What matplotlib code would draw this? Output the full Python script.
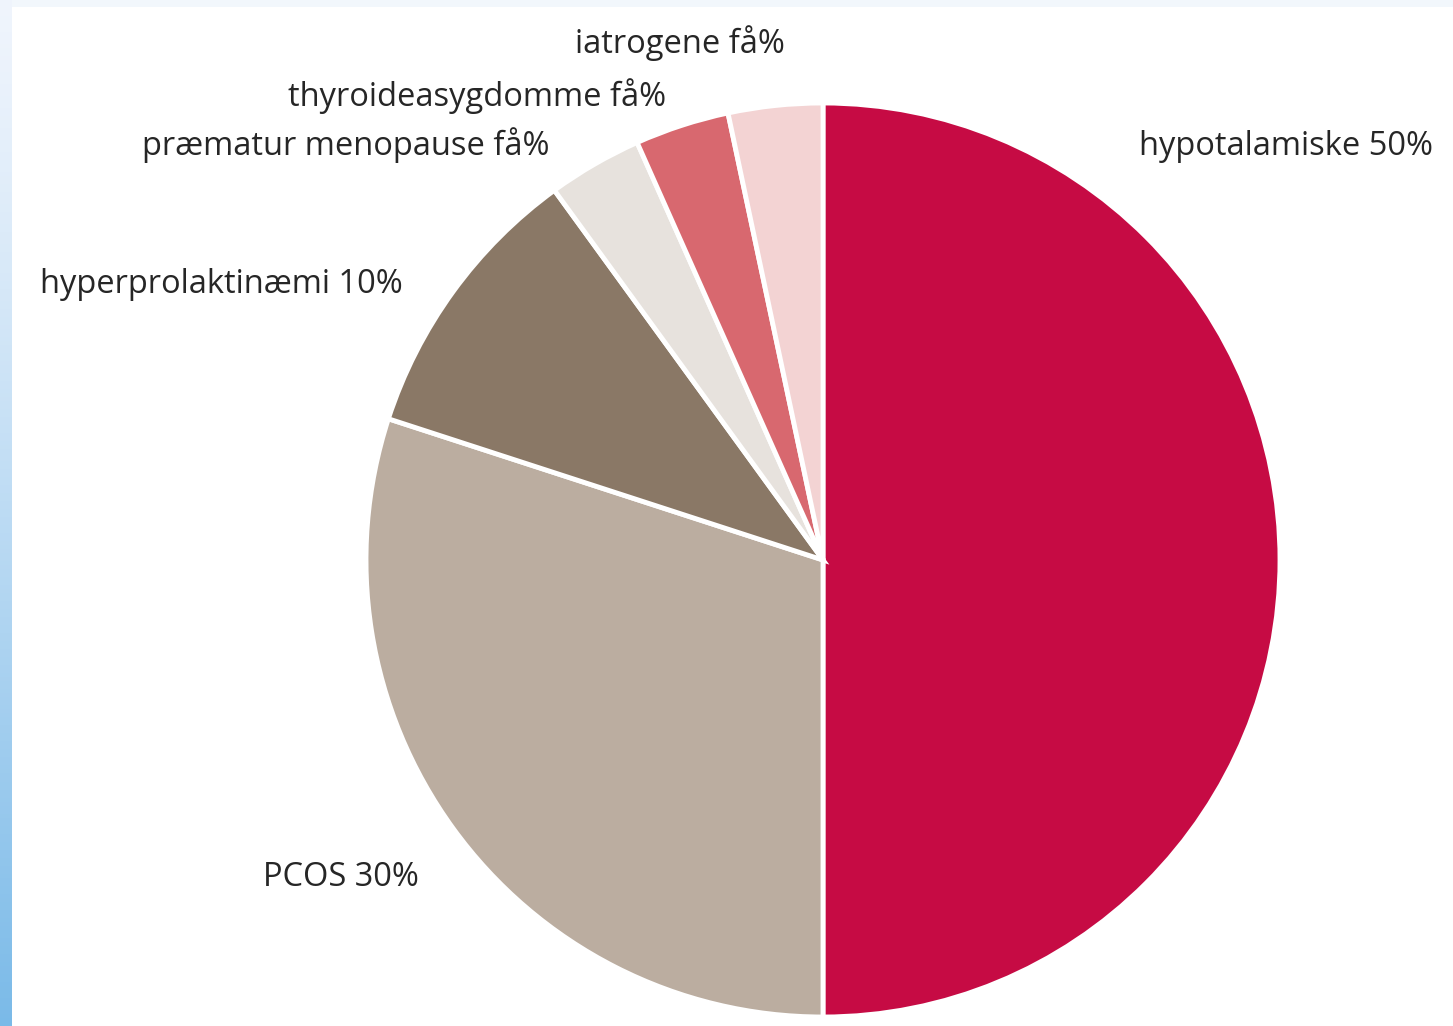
import numpy as np
import matplotlib.pyplot as plt

# andele af amenoré-årsager
labels = ['hypotalamiske 50%', 'PCOS 30%', 'hyperprolaktinæmi 10%',
          'præmatur menopause få%', 'thyroideasygdomme få%', 'iatrogene få%']
values = [50, 30, 10, 10 / 3, 10 / 3, 10 / 3]
colors = ['#C60B44', '#BBADA0', '#8A7866', '#E7E2DD', '#D8686F', '#F3D3D3']

# tekstplacering i pixel (x, baseline y fra toppen, justering)
label_pos = [(1139, 155, 'left'), (419, 886, 'right'), (403, 293, 'right'),
             (550, 155, 'right'), (666, 106, 'right'), (785, 53, 'right')]

W, H = 1453, 1026
fig = plt.figure(figsize=(W / 100, H / 100), dpi=100)
fig.patch.set_facecolor('white')

ax = fig.add_axes([0, 0, 1, 1])
ax.set_xlim(0, W)
ax.set_ylim(0, H)
ax.set_aspect('equal')
ax.axis('off')

# lys kant øverst
ax.add_patch(plt.Rectangle((0, H - 7), W, 7, color='#F2F7FC', lw=0, zorder=0))

# blå gradient i venstre kant
t = np.linspace(0, 1, 256).reshape(-1, 1) ** 1.2
c_top = np.array([0.94, 0.96, 0.99])
c_bot = np.array([0.48, 0.73, 0.91])
img = (c_top + (c_bot - c_top) * t).reshape(256, 1, 3)
ax.imshow(img, extent=(0, 12, 0, H), aspect='auto', origin='upper', zorder=1)

ax.pie(values, colors=colors, startangle=90, counterclock=False,
       radius=457, center=(823, H - 560),
       wedgeprops=dict(edgecolor='white', linewidth=3.5))
ax.set_xlim(0, W)
ax.set_ylim(0, H)

for lab, (x, y, ha) in zip(labels, label_pos):
    ax.text(x, H - y, lab, ha=ha, va='baseline', fontsize=23.5,
            family='Open Sans', color='#262626')

fig.savefig('out.png', dpi=100)
